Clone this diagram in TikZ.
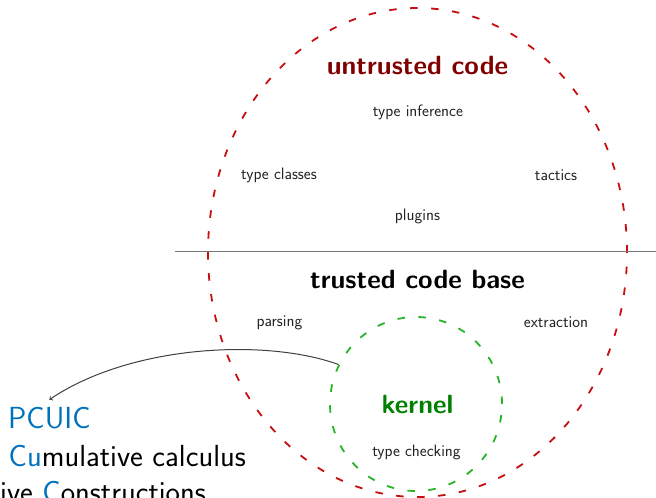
\documentclass[tikz,border=0pt]{standalone}
\usepackage{fontspec}
\usetikzlibrary{shapes.geometric}
\definecolor{zonered}{RGB}{200,15,15}
\definecolor{titlered}{RGB}{128,0,0}
\definecolor{zonegreen}{RGB}{40,180,40}
\definecolor{titlegreen}{RGB}{0,128,0}
\definecolor{acronym}{RGB}{0,114,189}
\definecolor{labeltext}{RGB}{35,35,35}
\definecolor{divider}{RGB}{120,120,120}
\begin{document}
\begin{tikzpicture}[x=1pt,y=-1pt,
  zone/.style={draw,ellipse,inner sep=0,line width=1.8pt,dash pattern=on 7.5pt off 13.5pt},
  heading/.style={anchor=base,inner sep=0,font=\sffamily\bfseries\fontsize{26.4}{30}\selectfont},
  itemlabel/.style={anchor=base,inner sep=0,text=labeltext,font=\sffamily\fontsize{16.5}{19}\selectfont},
  bigtext/.style={anchor=base west,inner sep=0,text=black,font=\sffamily\fontsize{30.5}{36}\selectfont},
  link/.style={->,line width=1pt,draw=black!75}]
\useasboundingbox (0,0) rectangle (656,498);
\clip (0,0) rectangle (656,498);
\fill[white] (0,0) rectangle (656,498);
% zones
\node[zone,draw=zonered,minimum width=419pt,minimum height=489pt] (untrusted) at (417.5,252.5) {};
\node[zone,draw=zonegreen,minimum width=172pt,minimum height=174pt] (kernelzone) at (416,404) {};
\draw[line width=1.5pt,draw=divider] (175,251.5) -- (656,251.5);
% headings
\node[heading,text=titlered] (untrustedtitle) at (417.5,74) {untrusted code};
\node[heading,text=black] (trustedtitle) at (417.5,288.5) {trusted code base};
\node[heading,text=titlegreen] (kerneltitle) at (417.5,413) {kernel};
% item labels
\node[itemlabel] (typeinf) at (418,116) {type inference};
\node[itemlabel] (typeclasses) at (279,179.5) {type classes};
\node[itemlabel] (tactics) at (556,180.5) {tactics};
\node[itemlabel] (plugins) at (417.5,220) {plugins};
\node[itemlabel] (parsing) at (279.5,326.5) {parsing};
\node[itemlabel] (extraction) at (556,327) {extraction};
\node[itemlabel] (typecheck) at (416.5,456.5) {type checking};
% PCUIC text
\node[bigtext] (pcuic) at (8,428) {\textcolor{acronym}{PCUIC}};
\node[bigtext] (cumul) at (8.5,466) {\textcolor{acronym}{Cu}mulative calculus};
\node[bigtext] (constr) at (0,502) {ive \textcolor{acronym}{C}onstructions};
% arrow
\draw[link] (kernelzone.153) .. controls (265,338) and (130,345) .. ([yshift=7pt]pcuic.north);
\end{tikzpicture}
\end{document}
